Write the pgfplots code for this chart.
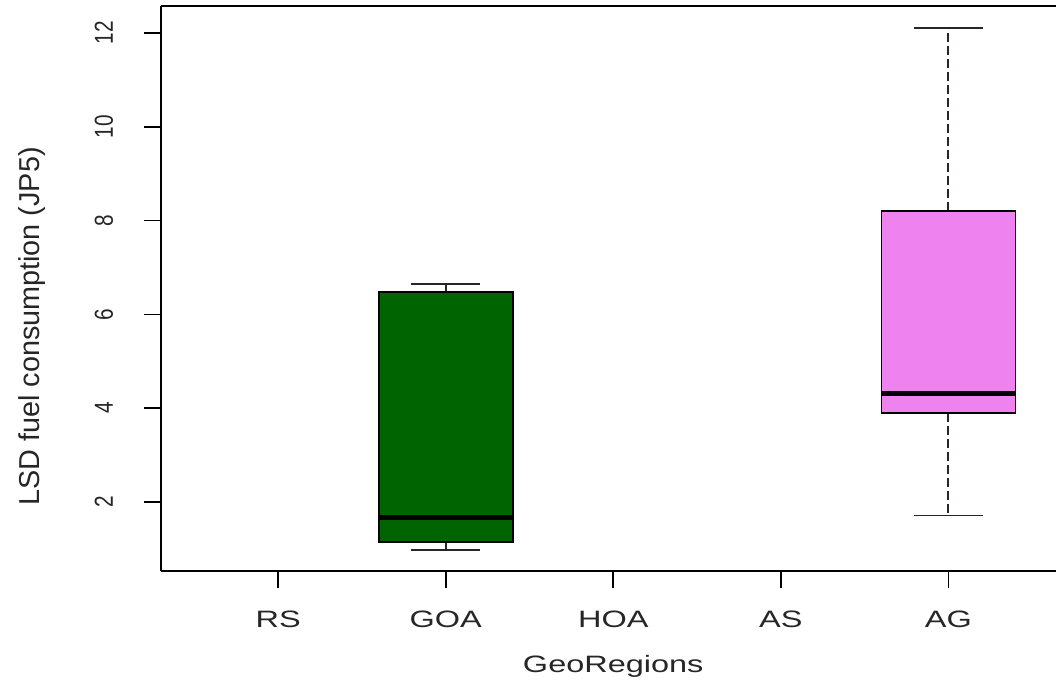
\documentclass[border=0pt]{standalone}
\usepackage{fontspec}
\setmainfont{Liberation Sans}
\newfontfamily\xfont{Liberation Sans}[FakeStretch=1.37]
\newfontfamily\ytfont{Liberation Sans}[FakeStretch=0.8]
\newfontfamily\ylfont{Liberation Sans}
\usepackage{pgfplots}
\pgfplotsset{compat=1.18}
\usepgfplotslibrary{statistics}
\definecolor{rgreen}{HTML}{006400}
\definecolor{rviolet}{HTML}{EE82EE}
\pgfplotsset{
  boxplot/draw direction=y,
  boxplot/draw/whisker/.code 2 args={%
    \draw[dash pattern=on 9pt off 4pt, line width=1.8pt, draw=black!85]
      (boxplot cs:#1) -- (boxplot cs:#2);
    \draw[line width=1.6pt, draw=black!85]
      (boxplot whisker cs:#2,0) -- (boxplot whisker cs:#2,1);
  },
  boxplot/every median/.style={line width=5pt, draw=black},
  boxplot/every box/.style={line width=1.6pt, draw=black},
}
\begin{document}
\begin{tikzpicture}
\begin{axis}[
  scale only axis, width=895pt, height=565pt,
  xmin=0.3, xmax=5.643, ymin=0.529, ymax=12.575,
  axis x line*=box, axis y line*=left,
  xtick={1,2,3,4,5}, xticklabels={RS,GOA,HOA,AS,AG},
  ytick={2,4,6,8,10,12},
  xtick pos=bottom, ytick pos=left,
  tick align=outside, major tick length=17pt,
  every tick/.style={black, line width=1.6pt},
  axis line style={black, line width=1.6pt},
  /pgf/number format/assume math mode=true,
  xticklabel style={font=\xfont\fontsize{23.7}{28}\selectfont, anchor=base, inner sep=0pt, text=black!85},
  xticklabel shift=39pt,
  yticklabel style={font=\ytfont\fontsize{26}{30}\selectfont, rotate=90, anchor=base, inner sep=0pt, text=black!85},
  yticklabel shift=31pt,
  xlabel={GeoRegions},
  xlabel style={font=\xfont\fontsize{23.7}{28}\selectfont, at={(axis description cs:0.5053,-0.1805)}, anchor=base, text=black!85},
  ylabel={LSD fuel consumption (JP5)},
  ylabel style={font=\ylfont\fontsize{28.8}{32}\selectfont, at={(axis description cs:-0.1352,0.4327)}, anchor=base, text=black!85},
  clip=false,
]
\addplot[fill=rgreen, draw=black, boxplot prepared={draw position=2,
  median=1.66, upper quartile=6.48, lower quartile=1.15,
  upper whisker=6.65, lower whisker=0.98, box extend=0.8, whisker extend=0.41}]
  coordinates {};
\addplot[fill=rviolet, draw=black, boxplot prepared={draw position=5,
  median=4.31, upper quartile=8.21, lower quartile=3.90,
  upper whisker=12.11, lower whisker=1.71, box extend=0.8, whisker extend=0.41}]
  coordinates {};
\end{axis}
\pgfresetboundingbox
\path[use as bounding box] (-161pt,-118pt) rectangle (895pt,571pt);
\end{tikzpicture}
\end{document}
